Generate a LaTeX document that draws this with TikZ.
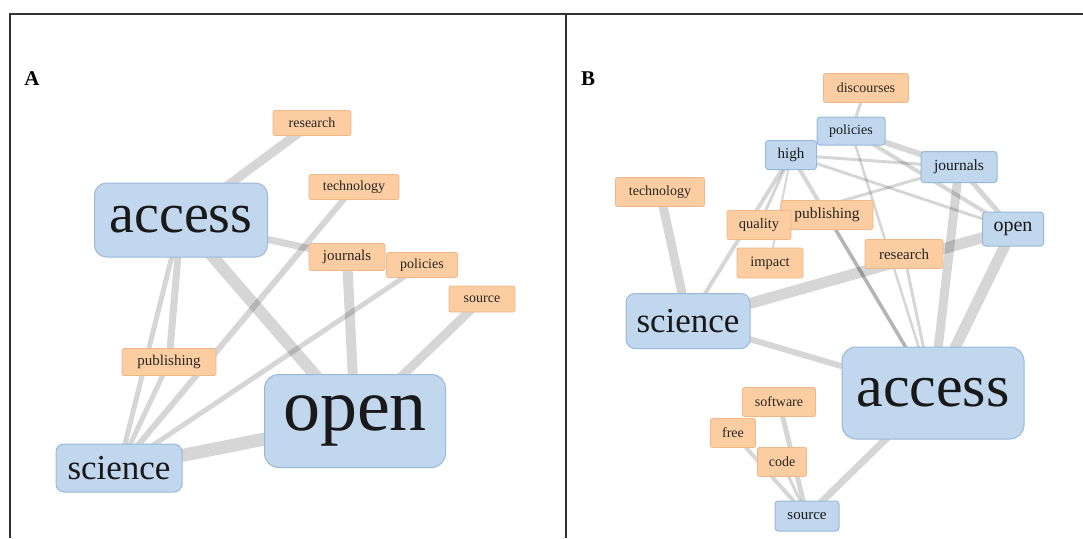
\documentclass[tikz,border=0pt]{standalone}
\usepackage{fontspec}
\setmainfont{Liberation Serif}
\usetikzlibrary{backgrounds}
\definecolor{wordblue}{RGB}{192,215,237}
\definecolor{blueedge}{RGB}{152,185,215}
\definecolor{wordorange}{RGB}{251,205,160}
\definecolor{orangeedge}{RGB}{238,184,136}
\tikzset{
  blueword/.style={draw=blueedge,fill=wordblue,text=black!90,line width=1pt,inner sep=0pt,rounded corners=3pt},
  orangeword/.style={draw=orangeedge,fill=wordorange,text=black!85,line width=0.8pt,inner sep=0pt,rounded corners=2pt},
  box/.style 2 args={minimum width=#1pt,minimum height=#2pt},
  fs/.style={font=\fontsize{#1}{#1}\selectfont},
  link/.style={line width=#1pt,black,opacity=0.16},
  panel/.style={font=\bfseries\fontsize{21}{21}\selectfont}
}

\begin{document}
\begin{tikzpicture}[x=1pt,y=-1pt]
\useasboundingbox (0,0) rectangle (1083,538);
\draw[line width=1.3pt,black!80] (10,538) -- (10,14) -- (1083,14);
\draw[line width=1.3pt,black!80] (566,14) -- (566,538);

% panel A
\node[panel] (labA) at (32,79) {A};
\node[orangeword,box={78}{25},fs=14] (resA) at (312,123) {research};
\node[orangeword,box={90}{25},fs=14] (techA) at (354,187) {technology};
\node[blueword,box={173}{74},fs=56,rounded corners=12pt] (accA) at (181,220) {access};
\node[orangeword,box={76}{27},fs=15] (jourA) at (347,257) {journals};
\node[orangeword,box={71}{25},fs=14] (polA) at (422,265) {policies};
\node[orangeword,box={66}{26},fs=14] (srcA) at (482,299) {source};
\node[orangeword,box={94}{27},fs=15] (pubA) at (169,362) {publishing};
\node[blueword,box={181}{93},fs=74,rounded corners=14pt] (openA) at (355,421) {open};
\node[blueword,box={126}{48},fs=35,rounded corners=8pt] (sciA) at (119,468) {science};

\begin{scope}[on background layer]
\draw[link=9] (accA.center) -- (resA.center);
\draw[link=7] (accA.center) -- (jourA.center);
\draw[link=12] (accA.center) -- (openA.center);
\draw[link=7] (accA.center) -- (pubA.center);
\draw[link=5] (accA.center) -- (sciA.center);
\draw[link=6] (techA.center) -- (sciA.center);
\draw[link=5] (polA.center) -- (sciA.center);
\draw[link=10] (jourA.center) -- (openA.center);
\draw[link=9] (srcA.center) -- (openA.center);
\draw[link=13] (openA.center) -- (sciA.center);
\draw[link=5] (pubA.center) -- (sciA.center);
\end{scope}

% panel B
\node[panel] (labB) at (588,79) {B};
\node[orangeword,box={85}{29},fs=14] (discB) at (866,88) {discourses};
\node[blueword,box={51}{29},fs=15] (highB) at (791,155) {high};
\node[blueword,box={68}{28},fs=14] (polB) at (851,131) {policies};
\node[blueword,box={76}{31},fs=15.5] (jourB) at (959,167) {journals};
\node[orangeword,box={89}{29},fs=14] (techB) at (660,192) {technology};
\node[orangeword,box={92}{29},fs=15.5] (pubB) at (827,215) {publishing};
\node[orangeword,box={64}{29},fs=14.5] (qualB) at (759,225) {quality};
\node[orangeword,box={66}{30},fs=14.5] (impB) at (770,263) {impact};
\node[orangeword,box={78}{29},fs=15] (resB) at (904,254) {research};
\node[blueword,box={61}{34},fs=20] (openB) at (1013,229) {open};
\node[blueword,box={124}{55},fs=35,rounded corners=9pt] (sciB) at (688,321) {science};
\node[blueword,box={182}{92},fs=60,rounded corners=14pt] (accB) at (933,393) {access};
\node[orangeword,box={73}{29},fs=14] (softB) at (779,402) {software};
\node[orangeword,box={45}{29},fs=14] (freeB) at (733,433) {free};
\node[orangeword,box={49}{29},fs=14] (codeB) at (782,462) {code};
\node[blueword,box={64}{30},fs=15] (srcB) at (807,516) {source};

\begin{scope}[on background layer]
\draw[link=9] (sciB.center) -- (techB.center);
\draw[link=4] (sciB.center) -- (highB.center);
\draw[link=11] (sciB.center) -- (openB.center);
\draw[link=6] (sciB.center) -- (accB.center);
\draw[link=4] (highB.center) -- (accB.center);
\draw[link=2.5] (polB.center) -- (accB.center);
\draw[link=3] (discB.center) -- (polB.center);
\draw[link=3] (highB.center) -- (openB.center);
\draw[link=6] (polB.center) -- (jourB.center);
\draw[link=3] (highB.center) -- (jourB.center);
\draw[link=4] (polB.center) -- (openB.center);
\draw[link=9] (jourB.center) -- (accB.center);
\draw[link=11] (openB.center) -- (accB.center);
\draw[link=5] (jourB.center) -- (openB.center);
\draw[link=3] (resB.center) -- (accB.center);
\draw[link=3] (pubB.center) -- (accB.center);
\draw[link=3] (qualB.center) -- (jourB.center);
\draw[link=3] (qualB.center) -- (highB.center);
\draw[link=2] (impB.center) -- (highB.center);
\draw[link=7] (srcB.center) -- (accB.center);
\draw[link=5] (srcB.center) -- (softB.center);
\draw[link=4] (srcB.center) -- (freeB.center);
\draw[link=3] (srcB.center) -- (codeB.center);
\end{scope}
\end{tikzpicture}
\end{document}
